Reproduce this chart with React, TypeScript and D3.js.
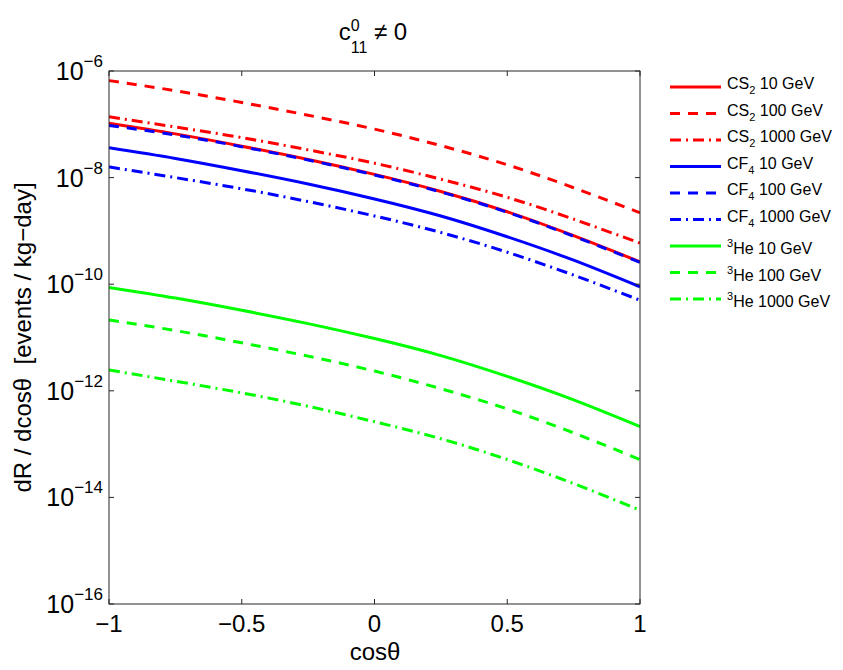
import * as React from "react";
import * as d3 from "d3";

// cos(theta) sample points
const cosTheta = [-1, -0.75, -0.5, -0.25, 0, 0.25, 0.5, 0.75, 1];

// log10 of dR/dcos(theta), one list per curve
const cs2_10 = [-6.98, -7.18, -7.41, -7.66, -7.94, -8.26, -8.64, -9.09, -9.58];
const cs2_100 = [-6.18, -6.37, -6.59, -6.83, -7.09, -7.4, -7.76, -8.19, -8.66];
const cs2_1000 = [-6.86, -7.05, -7.25, -7.48, -7.73, -8.03, -8.37, -8.78, -9.23];
const cf4_10 = [-7.44, -7.64, -7.87, -8.12, -8.4, -8.72, -9.11, -9.55, -10.05];
const cf4_100 = [-7.02, -7.2, -7.42, -7.67, -7.95, -8.27, -8.65, -9.1, -9.59];
const cf4_1000 = [-7.8, -8.0, -8.21, -8.45, -8.72, -9.03, -9.4, -9.83, -10.3];
const he3_10 = [-10.06, -10.26, -10.49, -10.74, -11.02, -11.34, -11.73, -12.17, -12.67];
const he3_100 = [-10.67, -10.87, -11.1, -11.35, -11.63, -11.96, -12.34, -12.79, -13.29];
const he3_1000 = [-11.61, -11.82, -12.04, -12.29, -12.58, -12.9, -13.29, -13.74, -14.24];

const xTicks = [-1, -0.5, 0, 0.5, 1];
const yTickExps = [-6, -8, -10, -12, -14, -16];

const series = [
  { target: "CS", sub: "2", sup: "", mass: "10 GeV", values: cs2_10, color: "#ff0000", dash: "" },
  { target: "CS", sub: "2", sup: "", mass: "100 GeV", values: cs2_100, color: "#ff0000", dash: "10,8" },
  { target: "CS", sub: "2", sup: "", mass: "1000 GeV", values: cs2_1000, color: "#ff0000", dash: "11,5,2,5" },
  { target: "CF", sub: "4", sup: "", mass: "10 GeV", values: cf4_10, color: "#0000ff", dash: "" },
  { target: "CF", sub: "4", sup: "", mass: "100 GeV", values: cf4_100, color: "#0000ff", dash: "10,8" },
  { target: "CF", sub: "4", sup: "", mass: "1000 GeV", values: cf4_1000, color: "#0000ff", dash: "11,5,2,5" },
  { target: "He", sub: "", sup: "3", mass: "10 GeV", values: he3_10, color: "#00ff00", dash: "" },
  { target: "He", sub: "", sup: "3", mass: "100 GeV", values: he3_100, color: "#00ff00", dash: "10,8" },
  { target: "He", sub: "", sup: "3", mass: "1000 GeV", values: he3_1000, color: "#00ff00", dash: "11,5,2,5" },
];

const W = 843;
const H = 670;
const plot = { left: 109, right: 640, top: 71, bottom: 604 };
const font = "'Liberation Sans', Arial, Helvetica, sans-serif";
const axisColor = "#262626";

export default function App() {
  const x = d3.scaleLinear().domain([-1, 1]).range([plot.left, plot.right]);
  const y = d3.scaleLog().domain([1e-16, 1e-6]).range([plot.bottom, plot.top]);

  const line = d3
    .line<[number, number]>()
    .x((d) => x(d[0]))
    .y((d) => y(Math.pow(10, d[1])))
    .curve(d3.curveNatural);

  const legendX = 670;
  const legendY0 = 87;
  const legendStep = 26.5;

  return (
    <div style={{ position: "absolute", left: 0, top: 0 }}>
      <svg width={W} height={H} style={{ display: "block", background: "#fff" }} fontFamily={font}>
        <defs>
          <clipPath id="plotClip">
            <rect x={plot.left} y={plot.top} width={plot.right - plot.left} height={plot.bottom - plot.top} />
          </clipPath>
        </defs>

        {/* title */}
        <text x={373} y={40} textAnchor="middle" fontSize={24} fill="#000">
          c
          <tspan fontSize={16} dy={-9}>0</tspan>
          <tspan fontSize={16} dx={-9} dy={22}>11</tspan>
          <tspan dy={-13}> ≠ 0</tspan>
        </text>

        {/* curves */}
        <g clipPath="url(#plotClip)">
          {series.map((s, i) => (
            <path
              key={i}
              d={line(cosTheta.map((c, j) => [c, s.values[j]] as [number, number])) || ""}
              fill="none"
              stroke={s.color}
              strokeWidth={3}
              strokeDasharray={s.dash || undefined}
            />
          ))}
        </g>

        {/* axes box */}
        <rect
          x={plot.left}
          y={plot.top}
          width={plot.right - plot.left}
          height={plot.bottom - plot.top}
          fill="none"
          stroke={axisColor}
          strokeWidth={1}
        />

        {/* x ticks */}
        {xTicks.map((t) => (
          <g key={"x" + t}>
            <line x1={x(t)} x2={x(t)} y1={plot.bottom} y2={plot.bottom - 5} stroke={axisColor} />
            <line x1={x(t)} x2={x(t)} y1={plot.top} y2={plot.top + 5} stroke={axisColor} />
            <text x={x(t)} y={632} textAnchor="middle" fontSize={24} fill="#000">
              {t < 0 ? "\u2212" + Math.abs(t) : String(t)}
            </text>
          </g>
        ))}

        {/* y ticks */}
        {yTickExps.map((e) => {
          const yy = y(Math.pow(10, e));
          return (
            <g key={"y" + e}>
              <line x1={plot.left} x2={plot.left + 5} y1={yy} y2={yy} stroke={axisColor} />
              <line x1={plot.right} x2={plot.right - 5} y1={yy} y2={yy} stroke={axisColor} />
              <text x={103} y={yy + 9} textAnchor="end" fontSize={25} fill="#000">
                10
                <tspan fontSize={17} dy={-13}>{"\u2212" + Math.abs(e)}</tspan>
              </text>
            </g>
          );
        })}

        {/* axis labels */}
        <text x={375} y={660} textAnchor="middle" fontSize={24} fill="#000">
          cosθ
        </text>
        <text
          transform={`translate(31, ${(plot.top + plot.bottom) / 2}) rotate(-90)`}
          textAnchor="middle"
          fontSize={24}
          fill="#000"
        >
          {"dR / dcosθ\u00a0\u00a0[events / kg\u2212day]"}
        </text>

        {/* legend */}
        {series.map((s, i) => {
          const ly = legendY0 + i * legendStep;
          const base = s.sup ? ly + 8 : ly + 2;
          return (
            <g key={"leg" + i}>
              <line
                x1={legendX}
                x2={legendX + 51}
                y1={ly}
                y2={ly}
                stroke={s.color}
                strokeWidth={3}
                strokeDasharray={s.dash || undefined}
              />
              <text x={legendX + 57} y={base} fontSize={16} fill="#000">
                {s.sup ? (
                  <>
                    <tspan fontSize={11} dy={-7}>{s.sup}</tspan>
                    <tspan dy={7}>{s.target}</tspan>
                    <tspan>{" " + s.mass}</tspan>
                  </>
                ) : (
                  <>
                    <tspan>{s.target}</tspan>
                    <tspan fontSize={11} dy={5}>{s.sub}</tspan>
                    <tspan dy={-5}>{" " + s.mass}</tspan>
                  </>
                )}
              </text>
            </g>
          );
        })}
      </svg>
    </div>
  );
}
